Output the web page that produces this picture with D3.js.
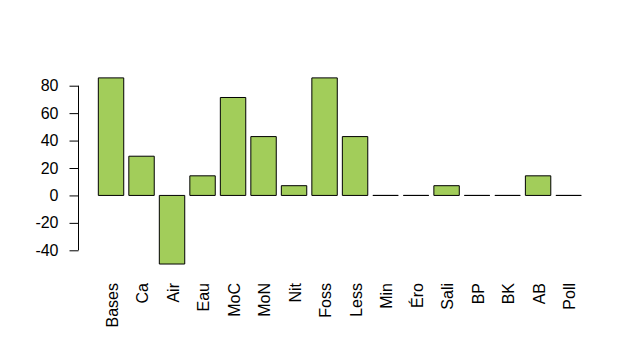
<!DOCTYPE html>
<html>
<head>
<meta charset="utf-8">
<script src="https://cdn.jsdelivr.net/npm/d3@7"></script>
<style>
  body { margin: 0; background: #fff; }
  text { font-family: Arial, "Liberation Sans", sans-serif; }
</style>
</head>
<body>
<div id="chart"></div>
<script>
var categories = ["Bases", "Ca", "Air", "Eau", "MoC", "MoN", "Nit", "Foss", "Less", "Min", "Éro", "Sali", "BP", "BK", "AB", "Poll"];
var values = [85.7, 28.6, -50, 14.3, 71.4, 42.9, 7.1, 85.7, 42.9, 0, 0, 7.1, 0, 0, 14.3, 0];
var yTicks = [-40, -20, 0, 20, 40, 60, 80];

var width = 641, height = 362;
var barColor = "#A2CD5A";

var svg = d3.select("#chart").append("svg")
  .attr("width", width)
  .attr("height", height);

// R style barplot: width 1, space 0.2, xlim padded by 4%
var n = categories.length;
var xMin = 0.2, xMax = 0.2 + n * 1.2 - 0.2;
var pad = (xMax - xMin) * 0.04;
var x = d3.scaleLinear()
  .domain([xMin - pad, xMax + pad])
  .range([79, 79 + (xMax - xMin + 2 * pad) * 25.42]);

var y = d3.scaleLinear()
  .domain([-40, 80])
  .range([250.3, 85.7]);

svg.selectAll(".bar")
  .data(values)
  .enter().append("path")
  .attr("class", "bar")
  .attr("d", function(d, i) {
    var x0 = x(0.2 + i * 1.2), x1 = x(1.2 + i * 1.2);
    var y0 = y(0), y1 = y(d);
    return "M" + x0 + "," + y0 + "H" + x1 + "V" + y1 + "H" + x0 + "Z";
  })
  .attr("fill", barColor)
  .attr("stroke", "#000")
  .attr("stroke-width", 1);

// y axis
var yAxis = d3.axisLeft(y)
  .tickValues(yTicks)
  .tickSize(9)
  .tickPadding(11)
  .tickFormat(function(d) { return String(d); });

var gy = svg.append("g")
  .attr("transform", "translate(78.5,0)")
  .call(yAxis);
gy.select(".domain").attr("d", "M0," + y(-40) + "V" + y(80));
gy.selectAll("text").attr("font-size", "16px").attr("fill", "#000")
  .attr("font-family", "Arial, 'Liberation Sans', sans-serif");

// category labels, vertical
svg.selectAll(".cat")
  .data(categories)
  .enter().append("text")
  .attr("class", "cat")
  .attr("transform", function(d, i) {
    return "translate(" + (x(0.7 + i * 1.2) + 6.5) + ",283) rotate(-90)";
  })
  .attr("text-anchor", "end")
  .attr("font-size", "16px")
  .attr("fill", "#000")
  .text(function(d) { return d; });
</script>
</body>
</html>
